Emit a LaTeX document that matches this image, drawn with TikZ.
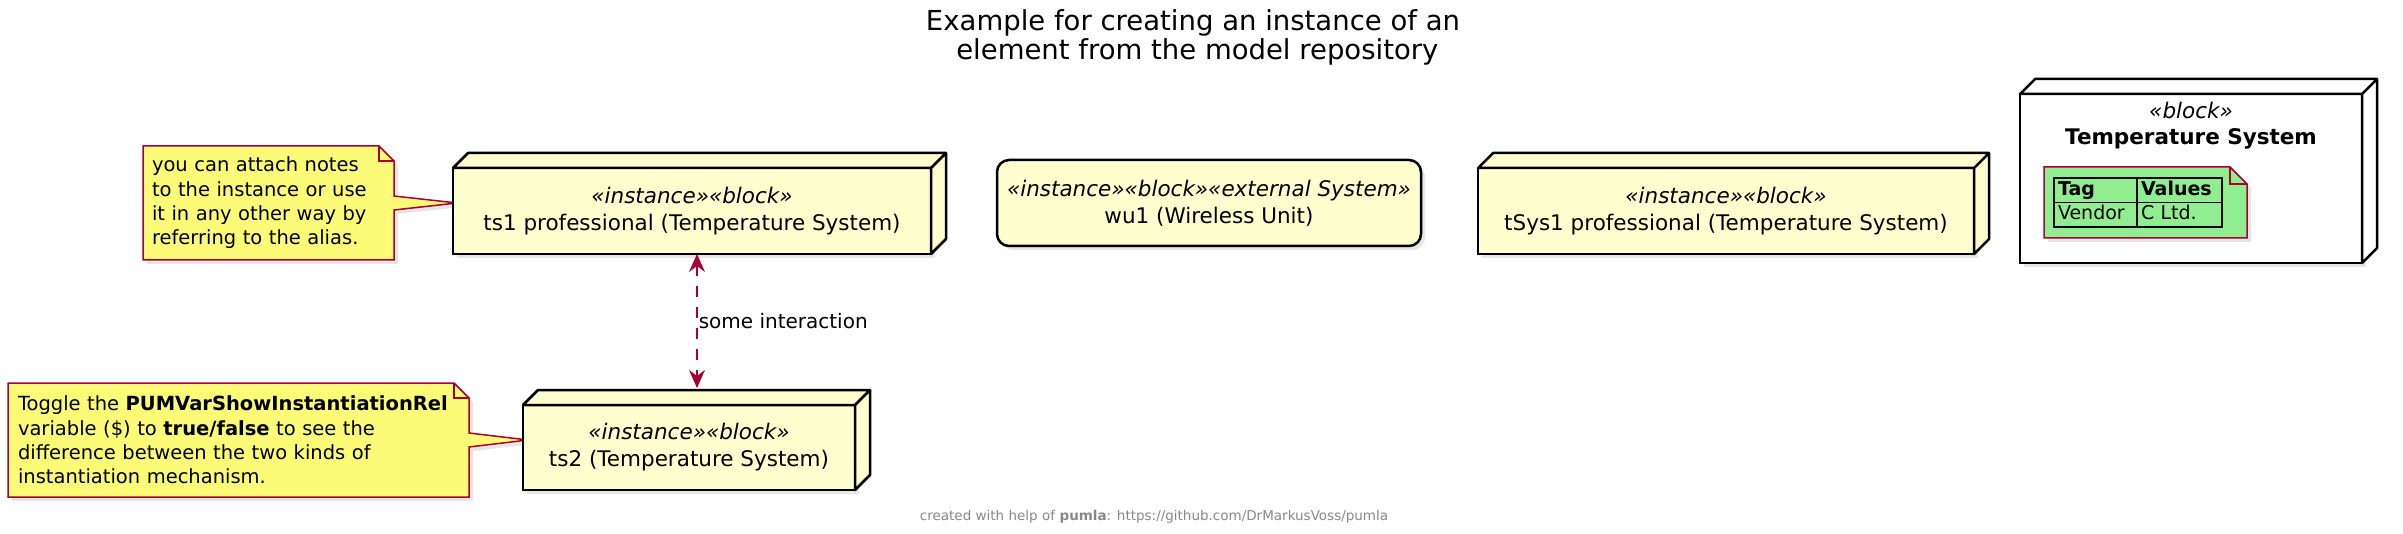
\documentclass[tikz,border=0pt]{standalone}
\usepackage{fontspec}
\setmainfont{DejaVu Sans}
\usetikzlibrary{positioning,calc,arrows.meta,shadows,backgrounds}

\definecolor{blockfill}{HTML}{FEFECE}
\definecolor{notefill}{HTML}{FBFB77}
\definecolor{noteline}{HTML}{A80036}
\definecolor{tagfill}{HTML}{90EE90}
\definecolor{footgray}{HTML}{888888}

\tikzset{
  blockbox/.style={draw, line width=2.5pt, fill=blockfill, outer sep=0pt, inner sep=0pt,
    align=center, font=\fontsize{21.5}{27}\selectfont,
    drop shadow={shadow xshift=4pt, shadow yshift=-4pt, opacity=.2}},
  face/.style={draw, line width=2.5pt, line join=round},
  notetext/.style={inner xsep=9pt, inner ysep=0pt, outer sep=0pt, align=left,
    font=\fontsize{19.5}{24.3}\selectfont},
  noteshape/.style={draw=noteline, fill=notefill, line width=1.5pt,
    drop shadow={shadow xshift=4pt, shadow yshift=-4pt, opacity=.2}},
  notefold/.style={draw=noteline, line width=1.5pt},
  link/.style={draw=noteline, line width=1.5pt, dash pattern=on 10.5pt off 10.5pt,
    {Stealth[length=18pt,width=16pt,inset=6pt]}-{Stealth[length=18pt,width=16pt,inset=6pt]}},
  linklabel/.style={font=\fontsize{20}{24}\selectfont, inner sep=1pt},
  cell/.style={draw, line width=1.2pt, outer sep=0pt, inner xsep=4pt, inner ysep=0pt,
    minimum height=24.5pt, text height=14pt, text depth=4pt, align=left,
    font=\fontsize{19}{22}\selectfont}
}

\begin{document}
\begin{tikzpicture}[x=1pt, y=-1pt]
  \useasboundingbox (0,0) rectangle (2403,534);

  % title
  \node[align=center, font=\fontsize{27.5}{29}\selectfont] (heading) at (1193,37.5)
    {Example for creating an instance of an\\~element from the model repository};

  % instances
  \node[blockbox, minimum width=478pt, minimum height=86pt] (ts1) at (692,211)
    {\textit{«instance»«block»}\\ts1 professional (Temperature System)};
  \filldraw[face, fill=blockfill] (ts1.north west) -- ++(15,-15) -- ([shift={(15,-15)}]ts1.north east)
    -- ([shift={(15,-15)}]ts1.south east) -- (ts1.south east) -- (ts1.north east) -- cycle
    (ts1.north east) -- ++(15,-15);

  \node[blockbox, minimum width=332pt, minimum height=85pt] (ts2) at (689,447.5)
    {\textit{«instance»«block»}\\ts2 (Temperature System)};
  \filldraw[face, fill=blockfill] (ts2.north west) -- ++(15,-15) -- ([shift={(15,-15)}]ts2.north east)
    -- ([shift={(15,-15)}]ts2.south east) -- (ts2.south east) -- (ts2.north east) -- cycle
    (ts2.north east) -- ++(15,-15);

  \node[blockbox, rounded corners=12pt, minimum width=424pt, minimum height=86pt] (wu1) at (1209,203)
    {\textit{«instance»«block»«external System»}\\wu1 (Wireless Unit)};

  \node[blockbox, minimum width=496pt, minimum height=86pt] (tsys1) at (1726,211)
    {\textit{«instance»«block»}\\tSys1 professional (Temperature System)};
  \filldraw[face, fill=blockfill] (tsys1.north west) -- ++(15,-15) -- ([shift={(15,-15)}]tsys1.north east)
    -- ([shift={(15,-15)}]tsys1.south east) -- (tsys1.south east) -- (tsys1.north east) -- cycle
    (tsys1.north east) -- ++(15,-15);

  % the block itself
  \node[blockbox, fill=white, minimum width=342pt, minimum height=169pt] (tempsys) at (2191,178.5) {};
  \filldraw[face, fill=white] (tempsys.north west) -- ++(15,-15) -- ([shift={(15,-15)}]tempsys.north east)
    -- ([shift={(15,-15)}]tempsys.south east) -- (tempsys.south east) -- (tempsys.north east) -- cycle
    (tempsys.north east) -- ++(15,-15);
  \node[below=5pt of tempsys.north, align=center, font=\fontsize{21.5}{26}\selectfont] (tempsyshead)
    {\textit{«block»}\\\textbf{Temperature System}};

  % tag table
  \node[minimum width=203pt, minimum height=71pt, inner sep=0pt, outer sep=0pt] (tagnote) at (2145.5,202.5) {};
  \filldraw[noteshape, fill=tagfill] (tagnote.north west) -- ([xshift=-17pt]tagnote.north east)
    -- ([yshift=-17pt]tagnote.north east) -- (tagnote.south east) -- (tagnote.south west) -- cycle;
  \draw[notefold] ([xshift=-17pt]tagnote.north east) -- ([xshift=-17pt,yshift=-17pt]tagnote.north east)
    -- ([yshift=-17pt]tagnote.north east);
  \node[cell, text width=75pt, anchor=north west] (tag) at (2054,178) {\textbf{Tag}};
  \node[cell, text width=77pt, right=0pt of tag] (values) {\textbf{Values}};
  \node[cell, text width=75pt, below=0pt of tag] (vendor) {Vendor};
  \node[cell, text width=77pt, right=0pt of vendor] (cltd) {C Ltd.};

  % notes
  \node[notetext, text width=233pt, minimum height=114pt] (note1) at (268.5,203)
    {you can attach notes\\to the instance or use\\it in any other way by\\referring to the alias.};
  \coordinate (note1tip) at ($(ts1.west)+(4,-8)$);
  \node[notetext, inner xsep=10pt, text width=441pt, minimum height=114pt] (note2) at (238.5,440)
    {Toggle the \textbf{PUMVarShowInstantiationRel}\\variable (\$) to \textbf{true/false} to see the\\difference between the two kinds of\\instantiation mechanism.};
  \coordinate (note2tip) at ($(ts2.west)+(5,-7.5)$);
  \begin{scope}[on background layer]
    \filldraw[noteshape] (note1.north west) -- ([xshift=-15pt]note1.north east)
      -- ([yshift=-15pt]note1.north east) -- ([yshift=7pt]note1.east) -- (note1tip)
      -- ([yshift=-7pt]note1.east) -- (note1.south east) -- (note1.south west) -- cycle;
    \draw[notefold] ([xshift=-15pt]note1.north east) -- ([xshift=-15pt,yshift=-15pt]note1.north east)
      -- ([yshift=-15pt]note1.north east);
    \filldraw[noteshape] (note2.north west) -- ([xshift=-15pt]note2.north east)
      -- ([yshift=-15pt]note2.north east) -- ([yshift=7pt]note2.east) -- (note2tip)
      -- ([yshift=-7pt]note2.east) -- (note2.south east) -- (note2.south west) -- cycle;
    \draw[notefold] ([xshift=-15pt]note2.north east) -- ([xshift=-15pt,yshift=-15pt]note2.north east)
      -- ([yshift=-15pt]note2.north east);
  \end{scope}

  % interaction
  \coordinate (ts1link) at ($(ts1.south)+(5,0)$);
  \coordinate (ts2top) at ($(ts2.north)+(0,-17)$);
  \draw[link] (ts1link) -- (ts1link |- ts2top)
    node[linklabel, midway, right] (interlabel) {some interaction};

  % footer
  \node[text=footgray, font=\fontsize{13.5}{16}\selectfont] (credit) at (1154,517)
    {created with help of \textbf{pumla}: https://github.com/DrMarkusVoss/pumla};
\end{tikzpicture}
\end{document}
